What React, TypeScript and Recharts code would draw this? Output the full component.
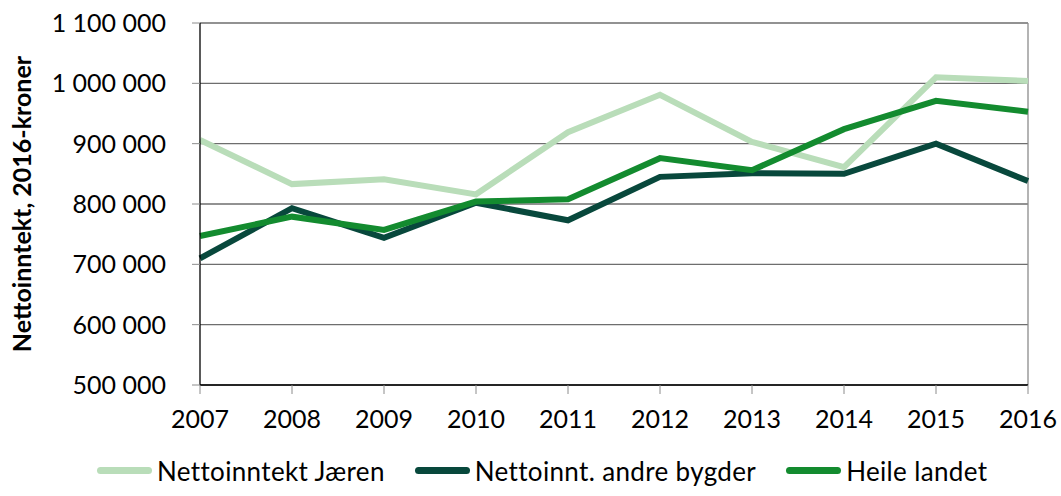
import { CartesianGrid, Legend, Line, LineChart, ReferenceLine, XAxis, YAxis } from 'recharts';

const years = ['2007', '2008', '2009', '2010', '2011', '2012', '2013', '2014', '2015', '2016'];
const jaeren = [906000, 833000, 841000, 816000, 919000, 981000, 903000, 861000, 1010000, 1004000];
const andreBygder = [710000, 793000, 744000, 802000, 773000, 845000, 851000, 850000, 900000, 838000];
const heileLandet = [747000, 779000, 757000, 804000, 808000, 876000, 856000, 924000, 971000, 953000];
const yTicks = [500000, 600000, 700000, 800000, 900000, 1000000, 1100000];

const series = [
  { key: 'jaeren', name: 'Nettoinntekt Jæren', color: '#b9ddb9' },
  { key: 'andre', name: 'Nettoinnt. andre bygder', color: '#08483c' },
  { key: 'heile', name: 'Heile landet', color: '#138b2f' },
];

const chartData = years.map((year, i) => ({
  year,
  jaeren: jaeren[i],
  andre: andreBygder[i],
  heile: heileLandet[i],
}));

const font = 'Lato, "Open Sans", sans-serif';
const fontSize = 25;

const formatNumber = (v: number) => String(v).replace(/\B(?=(\d{3})+(?!\d))/g, ' ');

const LegendBox = () => (
  <div
    style={{
      width: 1061,
      height: 61,
      display: 'flex',
      alignItems: 'center',
      paddingTop: 10,
      boxSizing: 'border-box',
      paddingLeft: 97,
      fontFamily: font,
      fontSize: 26,
      letterSpacing: 0.35,
      whiteSpace: 'nowrap',
      color: '#000',
    }}
  >
    {series.map((s) => (
      <div key={s.key} style={{ display: 'flex', alignItems: 'center', marginRight: 30, flexShrink: 0 }}>
        <span style={{ display: 'inline-block', width: 55, height: 7, borderRadius: 4, background: s.color, marginRight: 5 }} />
        <span>{s.name}</span>
      </div>
    ))}
  </div>
);

const App = () => {
  return (
    <div style={{ position: 'absolute', left: 0, top: 0, width: 1061, height: 496, background: '#fff' }}>
      <LineChart width={1061} height={496} data={chartData} margin={{ top: 23, right: 33, left: 0, bottom: 0 }}>
        <CartesianGrid vertical={false} stroke="#6e6e6e" strokeWidth={1.3} />
        <XAxis
          dataKey="year"
          height={50}
          tick={{ fill: '#000', fontSize, fontFamily: font }}
          tickLine={{ stroke: '#8c8c8c' }}
          tickSize={9}
          tickMargin={16}
          axisLine={{ stroke: '#000', strokeWidth: 1.3 }}
          interval={0}
        />
        <YAxis
          width={200}
          domain={[500000, 1100000]}
          ticks={yTicks}
          tickFormatter={formatNumber}
          tick={{ fill: '#000', fontSize, fontFamily: font }}
          tickLine={{ stroke: '#8c8c8c' }}
          tickSize={8}
          tickMargin={26}
          axisLine={{ stroke: '#000', strokeWidth: 1.3 }}
          label={{
            value: 'Nettoinntekt, 2016-kroner',
            angle: -90,
            position: 'insideLeft',
            offset: 22,
            style: { textAnchor: 'middle', fill: '#000', fontSize, fontWeight: 700, fontFamily: font },
          }}
        />
        <ReferenceLine x="2016" stroke="#8c8c8c" strokeWidth={1.3} />
        {series.map((s) => (
          <Line
            key={s.key}
            type="linear"
            dataKey={s.key}
            name={s.name}
            stroke={s.color}
            strokeWidth={6}
            dot={false}
            activeDot={false}
            isAnimationActive={false}
          />
        ))}
        <Legend verticalAlign="bottom" wrapperStyle={{ left: 0, width: 1061 }} content={<LegendBox />} />
      </LineChart>
    </div>
  );
};

export default App;
